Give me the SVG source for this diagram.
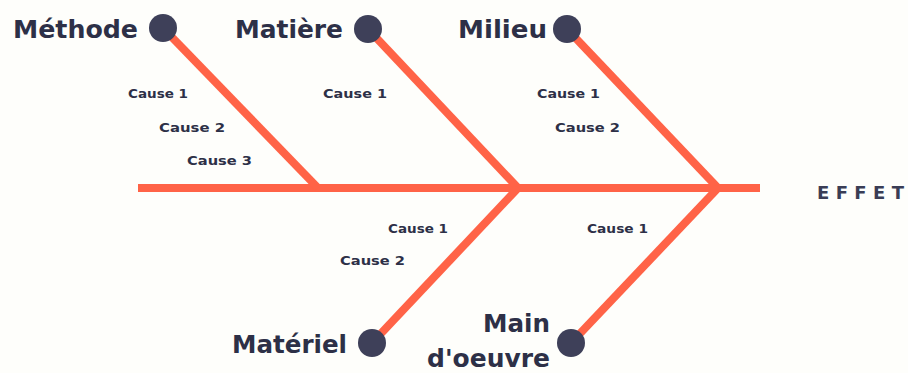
<svg xmlns="http://www.w3.org/2000/svg" width="908" height="373" viewBox="0 0 908 373">
<style>
.bone{stroke:#FF6347;stroke-width:8;fill:none;stroke-linecap:butt}
.dot{fill:#3E4059}
.lbl{font-family:"DejaVu Sans",sans-serif;font-weight:bold;font-size:25px;fill:#2D3047}
.cause{font-family:"DejaVu Sans",sans-serif;font-weight:bold;font-size:12.5px;fill:#2D3047}
.effet{font-family:"DejaVu Sans",sans-serif;font-weight:bold;font-size:18px;fill:#3A3D55}
</style>
<rect width="908" height="373" fill="#FEFEFB"/>
<g id="connectors">
<line class="bone" x1="138" y1="188" x2="760" y2="188"/>
<line class="bone" x1="163" y1="28" x2="318" y2="188"/>
<line class="bone" x1="368" y1="29" x2="518" y2="188"/>
<line class="bone" x1="567" y1="29" x2="718" y2="188"/>
<line class="bone" x1="372" y1="343" x2="518" y2="188"/>
<line class="bone" x1="571" y1="343" x2="718" y2="188"/>
</g>
<g id="methode">
<circle class="dot" cx="163" cy="28" r="14"/>
<text class="lbl" x="138" y="38" text-anchor="end" textLength="125" lengthAdjust="spacingAndGlyphs">Méthode</text>
<text class="cause" x="128" y="98" textLength="60" lengthAdjust="spacingAndGlyphs">Cause 1</text>
<text class="cause" x="159" y="132" textLength="66" lengthAdjust="spacingAndGlyphs">Cause 2</text>
<text class="cause" x="187" y="165" textLength="65" lengthAdjust="spacingAndGlyphs">Cause 3</text>
</g>
<g id="matiere">
<circle class="dot" cx="368" cy="29" r="14"/>
<text class="lbl" x="343" y="38" text-anchor="end" textLength="108" lengthAdjust="spacingAndGlyphs">Matière</text>
<text class="cause" x="323" y="98" textLength="64" lengthAdjust="spacingAndGlyphs">Cause 1</text>
</g>
<g id="milieu">
<circle class="dot" cx="567" cy="29" r="14"/>
<text class="lbl" x="547" y="38" text-anchor="end" textLength="89" lengthAdjust="spacingAndGlyphs">Milieu</text>
<text class="cause" x="537" y="98" textLength="63" lengthAdjust="spacingAndGlyphs">Cause 1</text>
<text class="cause" x="555" y="132" textLength="65" lengthAdjust="spacingAndGlyphs">Cause 2</text>
</g>
<g id="materiel">
<circle class="dot" cx="372" cy="343" r="14"/>
<text class="lbl" x="347" y="353" text-anchor="end" textLength="115" lengthAdjust="spacingAndGlyphs">Matériel</text>
<text class="cause" x="388" y="233" textLength="60" lengthAdjust="spacingAndGlyphs">Cause 1</text>
<text class="cause" x="340" y="265" textLength="65" lengthAdjust="spacingAndGlyphs">Cause 2</text>
</g>
<g id="main-doeuvre">
<circle class="dot" cx="571" cy="343" r="14"/>
<text class="lbl" x="550" y="332" text-anchor="end" textLength="67" lengthAdjust="spacingAndGlyphs">Main</text>
<text class="lbl" x="550" y="367" text-anchor="end" textLength="123" lengthAdjust="spacingAndGlyphs">d'oeuvre</text>
<text class="cause" x="587" y="233" textLength="61" lengthAdjust="spacingAndGlyphs">Cause 1</text>
</g>
<g id="effet">
<text class="effet" x="817" y="199" textLength="87" lengthAdjust="spacing">EFFET</text>
</g>
</svg>
